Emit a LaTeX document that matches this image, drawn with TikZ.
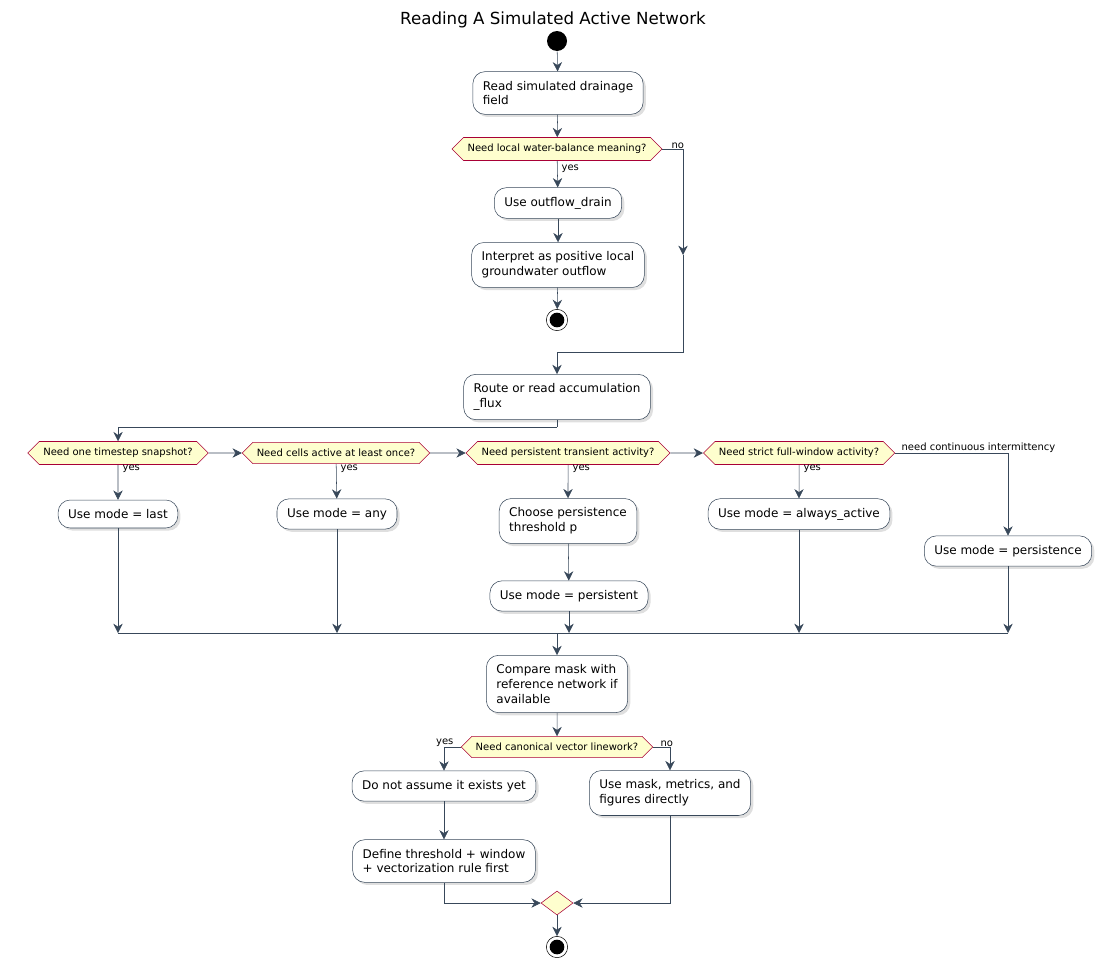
\documentclass[tikz,border=0pt]{standalone}
\usepackage{fontspec}
\setmainfont{DejaVu Sans}
\usetikzlibrary{positioning, arrows.meta, shapes.symbols, shapes.geometric, shadows}
\definecolor{linec}{HTML}{38485A}
\definecolor{diafill}{HTML}{FEFECE}
\definecolor{diadraw}{HTML}{A80036}
\begin{document}
\begin{tikzpicture}[
    x=0.75pt, y=-0.75pt,
    actnode/.style={draw=linec, fill=white, rounded corners=9pt, align=left, inner xsep=7.5pt, inner ysep=7pt,
        font=\fontsize{9}{11}\selectfont, drop shadow={opacity=0.25, shadow xshift=2pt, shadow yshift=-2pt}},
    choice/.style={signal, signal to=east and west, signal pointer angle=90, draw=diadraw, fill=diafill,
        inner xsep=3pt, inner ysep=5pt, font=\fontsize{7.5}{9}\selectfont},
    tag/.style={font=\fontsize{7.5}{9}\selectfont, inner sep=1pt},
    flow/.style={draw=linec, -{Stealth[length=7pt, width=7pt]}},
    plain/.style={draw=linec}
]
\useasboundingbox (0,0) rectangle (1105,967);
\node[font=\fontsize{12.5}{15}\selectfont] (title) at (553,20) {Reading A Simulated Active Network};

\node[circle, fill=black, minimum size=15pt, inner sep=0pt](start) at (557,41) {};
\node[actnode](read) at (558,93) {Read simulated drainage\\field};
\node[choice](local) at (557,149) {Need local water-balance meaning?};
\node[actnode](outflow) at (558,203) {Use outflow\_drain};
\node[actnode](interp) at (558,265) {Interpret as positive local\\groundwater outflow};
\node[circle, draw=black, fill=white, minimum size=16pt, inner sep=0pt](stop1) at (557,320) {};
\fill (stop1) circle (5.5pt);
\node[actnode](route) at (557,397) {Route or read accumulation\\\_flux};

\node[choice](snap) at (118,453) {Need one timestep snapshot?};
\node[choice](once) at (336,453) {Need cells active at least once?};
\node[choice](pers) at (568,453) {Need persistent transient activity?};
\node[choice](strict) at (799,453) {Need strict full-window activity?};

\node[actnode](last) at (118,514) {Use mode = last};
\node[actnode](any) at (337,514) {Use mode = any};
\node[actnode](thresh) at (568,521) {Choose persistence\\threshold p};
\node[actnode](persistent) at (569,596) {Use mode = persistent};
\node[actnode](always) at (799,514) {Use mode = always\_active};
\node[actnode](persistence) at (1008,551) {Use mode = persistence};

\node[actnode](compare) at (557,684) {Compare mask with\\reference network if\\available};
\node[choice](vector) at (557,747) {Need canonical vector linework?};
\node[actnode](noassume) at (444,786) {Do not assume it exists yet};
\node[actnode](define) at (444,861) {Define threshold + window\\+ vectorization rule first};
\node[actnode](usemask) at (670,793) {Use mask, metrics, and\\figures directly};
\node[diamond, draw=diadraw, fill=diafill, minimum width=24pt, minimum height=18pt, inner sep=0pt](merge) at (557,903) {};
\node[circle, draw=black, fill=white, minimum size=16pt, inner sep=0pt](stop2) at (557,947) {};
\fill (stop2) circle (5.5pt);

% upper part
\draw[flow] (start) -- (read);
\draw[flow] (read) -- (local);
\draw[flow] (local) -- (outflow);
\draw[flow] (outflow) -- (interp);
\draw[flow] (interp) -- (stop1);
\node[tag, anchor=west] at (560,169) {yes};
\node[tag, anchor=south west] at (670,150) {no};
\coordinate (nomid) at (683,255);
\coordinate (nojoin) at (557,352);
\draw[flow] (local.east) -| (nomid);
\draw[plain] (nomid) |- (nojoin);
\draw[flow] (nojoin) -- (route);

% mode choices
\coordinate (split) at (557,427);
\draw[plain] (route) -- (split);
\draw[flow] (split) -| (snap);
\draw[flow] (snap) -- (once);
\draw[flow] (once) -- (pers);
\draw[flow] (pers) -- (strict);
\draw[flow] (strict.east) -| (persistence);
\node[tag, anchor=south west] at (900,454) {need continuous intermittency};
\foreach \d/\b/\x in {snap/last/121, once/any/339, pers/thresh/571, strict/always/802}{
    \draw[flow] (\d) -- (\b);
    \node[tag, anchor=west] at (\x,469) {yes};
}
\draw[flow] (thresh) -- (persistent);

% merge bar
\coordinate (j1) at (118,633);
\coordinate (j2) at (337,633);
\coordinate (j3) at (569,633);
\coordinate (j4) at (799,633);
\coordinate (j5) at (1008,633);
\coordinate (jc) at (557,633);
\draw[plain] (j1) -- (j5);
\draw[flow] (last) -- (j1);
\draw[flow] (any) -- (j2);
\draw[flow] (persistent) -- (j3);
\draw[flow] (always) -- (j4);
\draw[flow] (persistence) -- (j5);
\draw[flow] (jc) -- (compare);

% vector linework
\draw[flow] (compare) -- (vector);
\draw[flow] (vector.west) -| (noassume);
\draw[flow] (vector.east) -| (usemask);
\node[tag, anchor=south east] at (455,748) {yes};
\node[tag, anchor=south west] at (659,748) {no};
\draw[flow] (noassume) -- (define);
\draw[flow] (define.south) |- (merge.west);
\draw[flow] (usemask.south) |- (merge.east);
\draw[flow] (merge) -- (stop2);
\end{tikzpicture}
\end{document}
